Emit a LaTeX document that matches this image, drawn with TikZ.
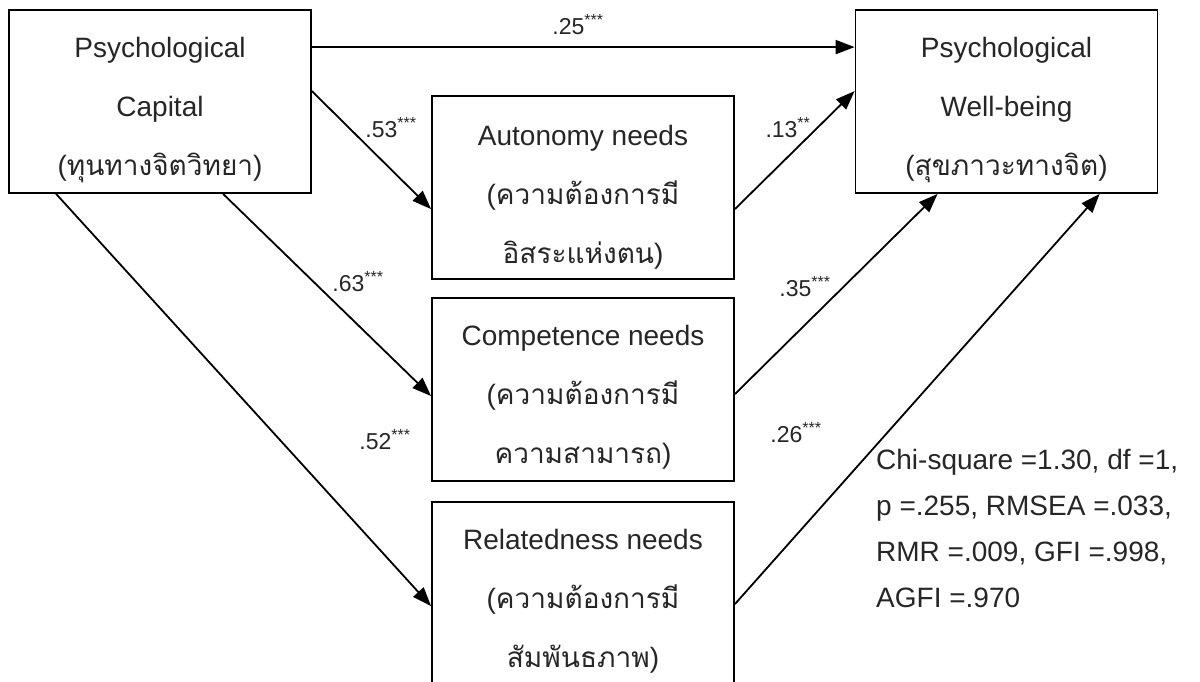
\documentclass[tikz,border=0pt]{standalone}
\usepackage{fontspec}
\setmainfont{Liberation Sans}
\newfontfamily\thaifont[Script=Thai]{Loma}
\usetikzlibrary{arrows.meta}
\newcommand{\thaitx}[1]{{\thaifont #1}}
\begin{document}
\begin{tikzpicture}[x=1pt,y=-1pt,
  boxnode/.style={draw=black,line width=1.8pt,minimum width=302pt,minimum height=183pt,inner sep=0pt},
  boxtext/.style={align=center,font=\fontsize{28}{59}\selectfont,text=black!85,inner sep=0pt},
  arr/.style={line width=1.8pt,-{Triangle[length=19pt,width=14pt]}},
  coef/.style={font=\fontsize{23}{26}\selectfont,text=black!85,inner sep=0pt},
  fit/.style={align=left,font=\fontsize{28}{46}\selectfont,text=black!85,inner sep=0pt}]
\useasboundingbox (0,0) rectangle (1200,682);
\clip (0,0) rectangle (1200,682);
\fill[white] (0,0) rectangle (1200,682);
% boxes
\node[boxnode] (pc) at (160,101.5) {};
\node[boxnode] (pwb) at (1006.5,101.5) {};
\node[boxnode] (aut) at (583,187.5) {};
\node[boxnode] (com) at (583,389.5) {};
\node[boxnode] (rel) at (583,593.5) {};
% texts
\node[boxtext] (pct) at ([yshift=-9pt]pc.center) {Psychological\\Capital\\(\thaitx{ทุนทางจิตวิทยา})};
\node[boxtext] (pwbt) at ([yshift=-9pt]pwb.center) {Psychological\\Well-being\\(\thaitx{สุขภาวะทางจิต})};
\node[boxtext] (autt) at ([yshift=-10pt]aut.center) {Autonomy needs\\(\thaitx{ความต้องการมี}\\\thaitx{อิสระแห่งตน})};
\node[boxtext] (comt) at ([yshift=-8pt]com.center) {Competence needs\\(\thaitx{ความต้องการมี}\\\thaitx{ความสามารถ})};
\node[boxtext] (relt) at ([yshift=-8pt]rel.center) {Relatedness needs\\(\thaitx{ความต้องการมี}\\\thaitx{สัมพันธภาพ})};
% arrows
\draw[arr] ([yshift=-38pt]pc.north east) -- ([yshift=-38pt]pwb.north west);
\draw[arr] ([yshift=-82pt]pc.north east) -- ([yshift=-114pt]aut.north west);
\draw[arr] ([xshift=215pt]pc.south west) -- ([yshift=-99pt]com.north west);
\draw[arr] ([xshift=48pt]pc.south west) -- ([yshift=-105pt]rel.north west);
\draw[arr] ([yshift=-114pt]aut.north east) -- ([yshift=-82pt]pwb.north west);
\draw[arr] ([yshift=-97pt]com.north east) -- ([xshift=83pt]pwb.south west);
\draw[arr] ([yshift=-103pt]rel.north east) -- ([xshift=245pt]pwb.south west);
% coefficients
\node[coef] (c1) at (578,25) {.25\textsuperscript{***}};
\node[coef] (c2) at (391,128) {.53\textsuperscript{***}};
\node[coef] (c3) at (358,282) {.63\textsuperscript{***}};
\node[coef] (c4) at (385,440) {.52\textsuperscript{***}};
\node[coef] (c5) at (788,128) {.13\textsuperscript{**}};
\node[coef] (c6) at (805,287) {.35\textsuperscript{***}};
\node[coef] (c7) at (796,433) {.26\textsuperscript{***}};
% fit indices
\node[fit,anchor=north west] (fitidx) at (876,449) {Chi-square =1.30, df =1,\\p =.255, RMSEA =.033,\\RMR =.009, GFI =.998,\\AGFI =.970};
\end{tikzpicture}
\end{document}
